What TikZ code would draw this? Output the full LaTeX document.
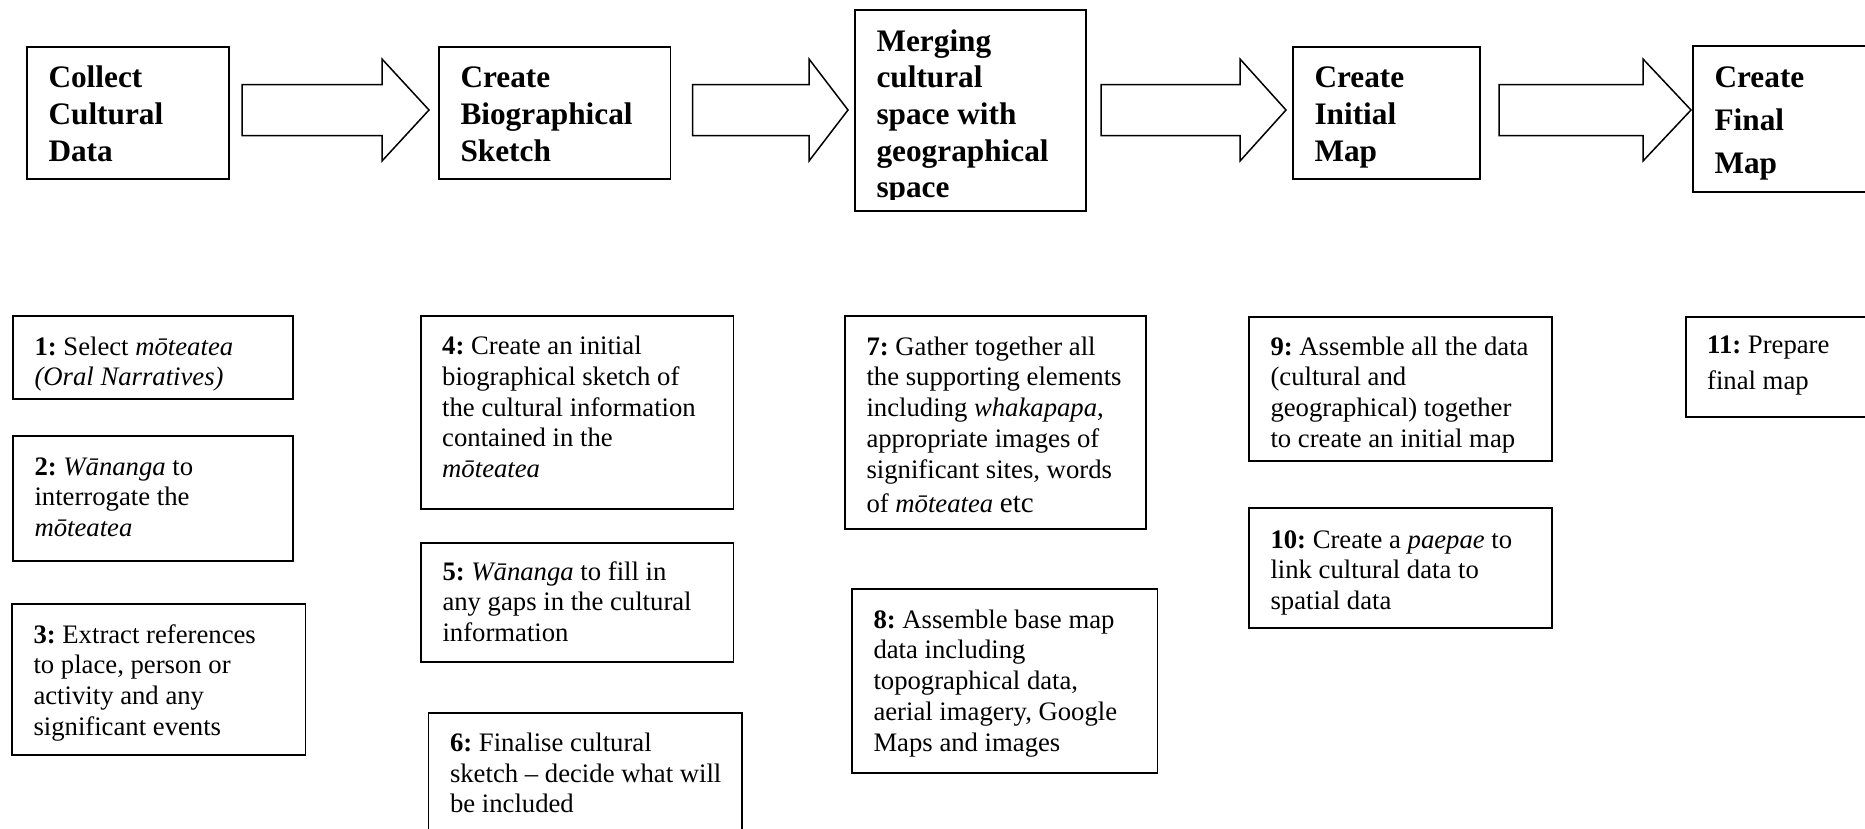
\documentclass[tikz,border=0pt]{standalone}
\usepackage{fontspec}
\setmainfont{Liberation Serif}
\usetikzlibrary{calc}
\frenchspacing

% type sizes
\newcommand\bodyfont{\fontsize{26.7}{30.8}\selectfont}
\newcommand\bodyfontwide{\fontsize{26.7}{36}\selectfont}
\newcommand\headfont{\fontsize{31.3}{36.7}\selectfont\bfseries}
\newcommand\headfontwide{\fontsize{31.3}{43}\selectfont\bfseries}

\tikzset{
  frame/.style={draw, line width=1.8pt, inner xsep=21.5pt, inner ysep=0pt,
                outer sep=0pt, fill=white},
  blockarrow/.style={draw, fill=white, line width=1.5pt, line join=miter},
}

% framed text box: name, font, x1, y1, x2, y2, drop to first baseline, lines
\newcommand\flowbox[8]{%
  \node[frame, anchor=north west] (#1) at (#3,#4)
    {\parbox[c][\dimexpr#6pt-#4pt\relax][t]{\dimexpr#5pt-#3pt-43pt\relax}%
      {#2\rule{0pt}{#7pt}#8}};}

% hollow block arrow between two header boxes:
% from, to, gap after "from", gap before "to", head length
\newcommand\flowarrow[5]{%
  \draw[blockarrow]
    ($(#1.east|-row)+(#3,-25.5)$)
    -- ($(#2.west|-row)+(-#4-#5,-25.5)$)
    -- ++(0,-25.5)
    -- ($(#2.west|-row)+(-#4,0)$)
    -- ($(#2.west|-row)+(-#4-#5,51)$)
    -- ++(0,-25.5)
    -- ($(#1.east|-row)+(#3,25.5)$) -- cycle;}

\begin{document}
\begin{tikzpicture}[x=1pt, y=-1pt]
\useasboundingbox (0,0) rectangle (1865,828);
\coordinate (row) at (0,110);

% ---- header row: the five stages ----
\flowbox{h1}{\headfont}{27}{47}{229}{179}{40.7}{%
  \mbox{Collect}\\\mbox{Cultural}\\\mbox{Data}}
\flowbox{h2}{\headfont}{439}{47}{670.5}{179}{40.7}{%
  \mbox{Create}\\\mbox{Biographical}\\\mbox{Sketch}}
\flowbox{h3}{\headfont}{855}{10}{1086}{210.7}{41}{%
  \mbox{Merging}\\\mbox{cultural}\\\mbox{space with}\\\mbox{geographical}\\\mbox{space}}
% the last line runs past the text frame and is cut off
\fill[white] ($(h3.south west)+(1.2,-1)$) rectangle ($(h3.south east)+(-1.2,-10.5)$);
\flowbox{h4}{\headfont}{1293}{47}{1480}{179}{40.7}{%
  \mbox{Create}\\\mbox{Initial}\\\mbox{Map}}
\flowbox{h5}{\headfontwide}{1693}{46}{1920}{191.7}{41.7}{%
  \mbox{Create}\\\mbox{Final}\\\mbox{Map}}

\flowarrow{h1}{h2}{13}{10}{47}
\flowarrow{h2}{h3}{22}{7}{39}
\flowarrow{h3}{h4}{15}{7}{46}
\flowarrow{h4}{h5}{19}{2}{48}

% ---- steps of each stage ----
\flowbox{s1}{\bodyfont}{13}{316}{293}{398.7}{39}{%
  \mbox{\textbf{1:} Select \textit{mōteatea}}\\\mbox{\textit{(Oral Narratives)}}}
\flowbox{s2}{\bodyfont}{13}{436}{293}{560.7}{39}{%
  \mbox{\textbf{2:} \textit{Wānanga} to}\\\mbox{interrogate the}\\\mbox{\textit{mōteatea}}}
\flowbox{s3}{\bodyfont}{12}{604}{305.5}{755}{39}{%
  \mbox{\textbf{3:} Extract references}\\\mbox{to place, person or}\\
  \mbox{activity and any}\\\mbox{significant events}}

\flowbox{s4}{\bodyfont}{420.7}{316}{733.4}{509}{38.5}{%
  \mbox{\textbf{4:} Create an initial}\\\mbox{biographical sketch of}\\
  \mbox{the cultural information}\\\mbox{contained in the}\\\mbox{\textit{mōteatea}}}
\flowbox{s5}{\bodyfont}{421}{542.7}{733.4}{661.7}{37.3}{%
  \mbox{\textbf{5:} \textit{Wānanga} to fill in}\\\mbox{any gaps in the cultural}\\
  \mbox{information}}
\flowbox{s6}{\bodyfont}{428.5}{712.7}{741.6}{880}{38.5}{%
  \mbox{\textbf{6:} Finalise cultural}\\\mbox{sketch – decide what will}\\
  \mbox{be included}}

\flowbox{s7}{\bodyfont}{845}{316}{1146}{529}{39}{%
  \mbox{\textbf{7:} Gather together all}\\\mbox{the supporting elements}\\
  \mbox{including \textit{whakapapa},}\\\mbox{appropriate images of}\\
  \mbox{significant sites, words}\\[3.2pt]
  \mbox{of \textit{mōteatea} {\fontsize{29}{30.8}\selectfont etc}}}
\flowbox{s8}{\bodyfont}{852}{589}{1157.4}{773.3}{39}{%
  \mbox{\textbf{8:} Assemble base map}\\\mbox{data including}\\
  \mbox{topographical data,}\\\mbox{aerial imagery, Google}\\\mbox{Maps and images}}

\flowbox{s9}{\bodyfont}{1249}{317}{1552}{461}{38}{%
  \mbox{\textbf{9:} Assemble all the data}\\\mbox{(cultural and}\\
  \mbox{geographical) together}\\\mbox{to create an initial map}}
\flowbox{s10}{\bodyfont}{1249}{508}{1552}{627.7}{40}{%
  \mbox{\textbf{10:} Create a \textit{paepae} to}\\\mbox{link cultural data to}\\
  \mbox{spatial data}}

\flowbox{s11}{\bodyfontwide}{1685.6}{317}{1920}{417.3}{36}{%
  \mbox{\textbf{11:} Prepare}\\\mbox{final map}}
\end{tikzpicture}
\end{document}
